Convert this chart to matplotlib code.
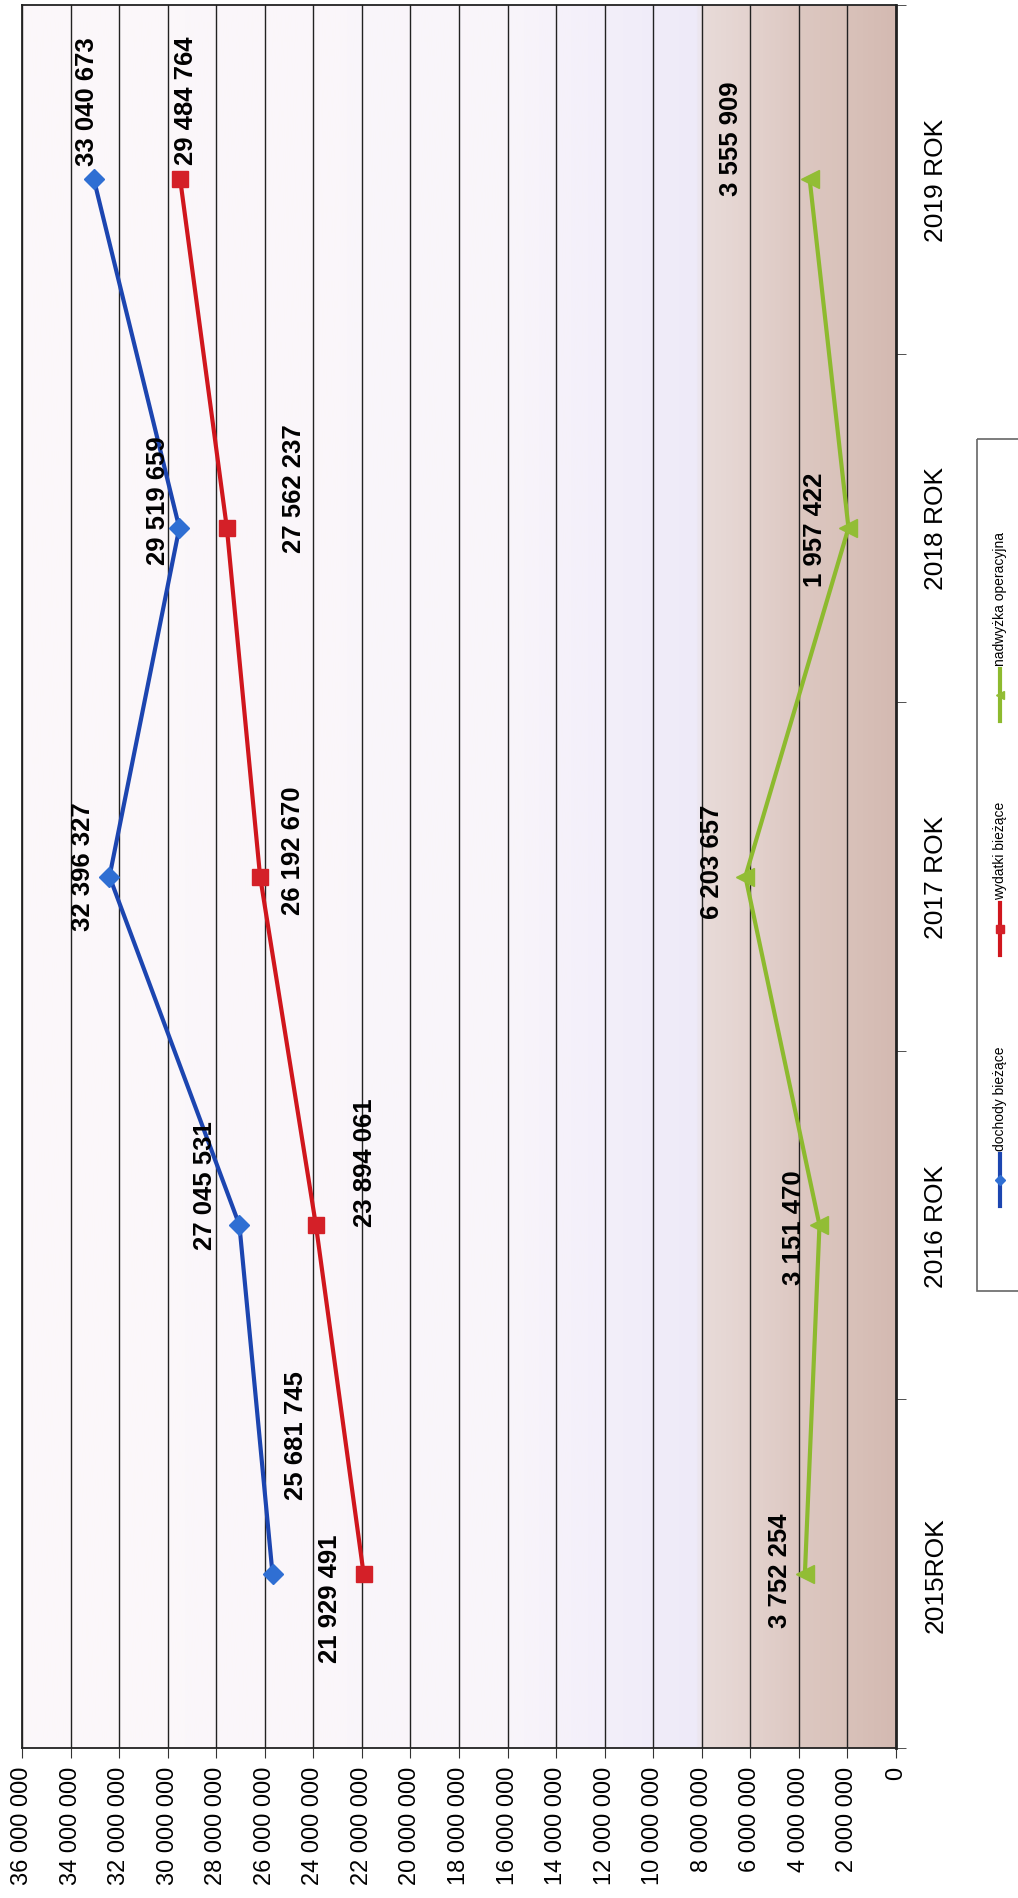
import matplotlib.pyplot as plt
import numpy as np
from matplotlib.colors import LinearSegmentedColormap
from matplotlib.lines import Line2D
from matplotlib.patches import Rectangle

plt.rcParams['font.family'] = ['Liberation Sans', 'DejaVu Sans']

# data
years = ["2015ROK", "2016 ROK", "2017 ROK", "2018 ROK", "2019 ROK"]
dochody = [25681745, 27045531, 32396327, 29519659, 33040673]
wydatki = [21929491, 23894061, 26192670, 27562237, 29484764]
nadwyzka = [3752254, 3151470, 6203657, 1957422, 3555909]
names = ["dochody bieżące", "wydatki bieżące", "nadwyżka operacyjna"]

# label offsets (points) relative to each marker
off_doch = [(17, 100), (-25, 29), (-19, 8), (-15, 20), (-5, 57)]
off_wyd = [(-24, -17), (35, 46), (24, 19), (48, 29), (4, 57)]
off_nad = [(-18, 3), (-18, -1), (-24, 11), (-24, -1), (-57, 30)]

fig = plt.figure(figsize=(10.18, 18.99), dpi=100)
W, H = 1018, 1899
ax = fig.add_axes([22 / W, (H - 1749) / H, 874 / W, 1743 / H])

y = np.arange(len(years))
ax.set_xlim(36000000, 0)
ax.set_ylim(-0.5, len(years) - 0.5)

# background gradient along value axis
cmap = LinearSegmentedColormap.from_list("bg", [
    (0.0, "#d4bab2"), (2 / 36, "#d9c2ba"), (4 / 36, "#ddc8c2"), (6 / 36, "#e4d3cf"),
    (7.9 / 36, "#e8dbd9"), (8.1 / 36, "#eeeaf8"), (12 / 36, "#f3effa"),
    (16 / 36, "#f9f5fa"), (1.0, "#fcf8fa")])
grad = np.linspace(0, 1, 400).reshape(1, -1)
ax.imshow(grad, cmap=cmap, aspect='auto', extent=[0, 36000000, -0.5, len(years) - 0.5],
          origin='lower', zorder=0)

ax.set_xticks(np.arange(0, 36000001, 2000000))
ax.set_xticklabels([f"{v:,}".replace(",", " ") for v in np.arange(0, 36000001, 2000000)],
                   rotation=90, fontsize=17)
ax.xaxis.grid(True, color='#222222', linewidth=1.0, zorder=1)
ax.tick_params(axis='x', direction='out', length=7, pad=6, color='#333333')

ax.yaxis.tick_right()
ax.set_yticks(y)
ax.set_yticklabels(years, rotation=90, fontsize=19, va='center')
ax.set_yticks(np.arange(-0.5, len(years), 1), minor=True)
ax.tick_params(axis='y', which='major', length=0, pad=20)
ax.tick_params(axis='y', which='minor', direction='out', length=7, color='#333333')
for s in ax.spines.values():
    s.set_color('#222222')
    s.set_linewidth(1.3)
ax.spines['right'].set_linewidth(2)

ax.plot(dochody, y, color='#1c45b0', linewidth=3, marker='D', markersize=10,
        markerfacecolor='#2f6fd3', markeredgecolor='#2f6fd3', zorder=3)
ax.plot(wydatki, y, color='#d0161d', linewidth=3, marker='s', markersize=12,
        markerfacecolor='#d42028', markeredgecolor='#d42028', zorder=3)
ax.plot(nadwyzka, y, color='#8dba2e', linewidth=3, marker='<', markersize=13,
        markerfacecolor='#92bd35', markeredgecolor='#92bd35', zorder=3)

for vals, offs in [(dochody, off_doch), (wydatki, off_wyd), (nadwyzka, off_nad)]:
    for v, yy, o in zip(vals, y, offs):
        ax.annotate(f"{v:,}".replace(",", " "), (v, yy), xytext=o, textcoords='offset points',
                    rotation=90, ha='center', va='center', fontsize=18.5, fontweight='bold',
                    zorder=4)

# legend drawn rotated, like the scanned page
lg = fig.add_axes([0, 0, 1, 1])
lg.set_xlim(0, W)
lg.set_ylim(H, 0)
lg.axis('off')
lg.add_patch(Rectangle((977, 440), 60, 852, fill=False, edgecolor='#666666', linewidth=1.2))
leg_y = [1181, 930, 696]
leg_c = [('#1c45b0', 'D', '#2f6fd3', 5), ('#d0161d', 's', '#d42028', 6), ('#8dba2e', '<', '#92bd35', 6)]
for name, yc, (c, m, mc, ms) in zip(names, leg_y, leg_c):
    lg.add_line(Line2D([1000, 1000], [yc - 26, yc + 26], color=c, linewidth=3))
    lg.add_line(Line2D([1000], [yc], marker=m, color=mc, markersize=ms, linestyle='none'))
    lg.text(1000, yc - 30, name, rotation=90, rotation_mode='anchor', ha='left', va='center',
            fontsize=10)

fig.savefig("out.png", dpi=100)
